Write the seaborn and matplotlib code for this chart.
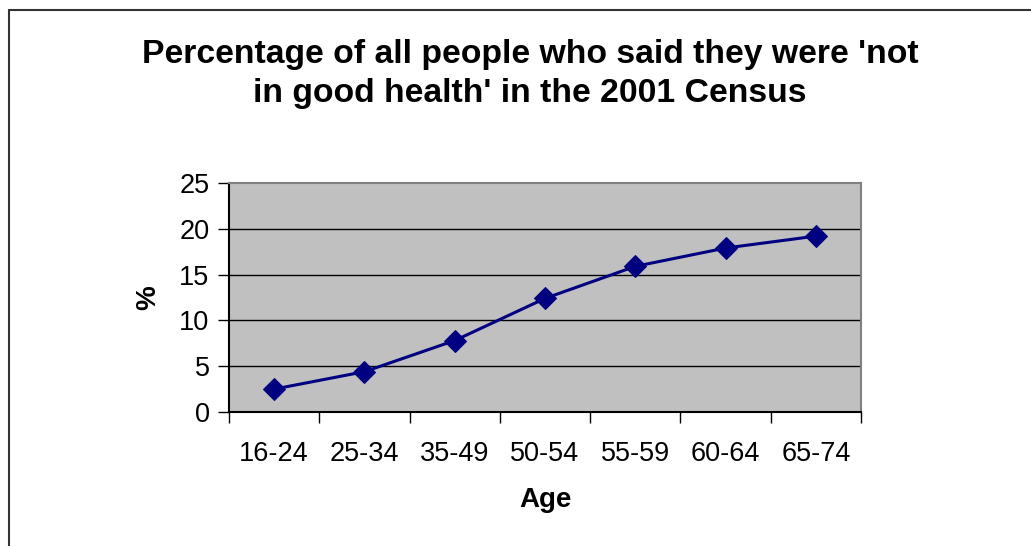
import matplotlib
matplotlib.use("Agg")
import matplotlib.pyplot as plt
import matplotlib.lines as mlines
import seaborn as sns
import pandas as pd

# data
ages = ["16-24", "25-34", "35-49", "50-54", "55-59", "60-64", "65-74"]
pct_not_good = [2.5, 4.4, 7.8, 12.4, 15.9, 17.9, 19.2]

df = pd.DataFrame({"Age": ages, "pct": pct_not_good})

sns.set_style("white")
plt.rcParams["font.family"] = ["Liberation Sans", "DejaVu Sans"]
plt.rcParams["text.color"] = "black"
plt.rcParams["axes.labelcolor"] = "black"
plt.rcParams["xtick.color"] = "black"
plt.rcParams["ytick.color"] = "black"

fig = plt.figure(figsize=(10.31, 5.46), dpi=100)
ax = fig.add_axes([229 / 1031, 1 - 412 / 546, (861 - 229) / 1031, (412 - 183) / 546])
ax.set_facecolor("#C0C0C0")

x = list(range(len(ages)))
sns.lineplot(x=x, y=df["pct"], ax=ax, color="#000080", linewidth=2.2,
             marker="D", markersize=11, markeredgecolor="#000080", zorder=3)

ax.set_xlim(-0.5, len(ages) - 0.5)
ax.set_ylim(0, 25)
ax.set_yticks(range(0, 26, 5))
ax.set_xticks(x)
ax.set_xticklabels(ages)
ax.set_xticks([i - 0.5 for i in range(len(ages) + 1)], minor=True)
ax.tick_params(axis="x", which="major", length=0, pad=21, labelsize=19.5)
ax.tick_params(axis="x", which="minor", length=8, width=1, color="black",
               direction="out", bottom=True)
ax.tick_params(axis="y", length=8, width=1, color="black", direction="out",
               pad=6, labelsize=19.5, left=True)

for yv in [5, 10, 15, 20]:
    ax.axhline(yv, color="black", linewidth=1, zorder=1)

ax.spines["left"].set_color("black")
ax.spines["bottom"].set_color("black")
ax.spines["top"].set_color("#808080")
ax.spines["right"].set_color("#808080")
for s in ax.spines.values():
    s.set_linewidth(1.5)
    s.set_visible(True)

ax.set_xlabel("Age", fontsize=20, fontweight="bold", labelpad=14)
ax.set_ylabel("%", fontsize=20, fontweight="bold", labelpad=13)

fig.text(530 / 1031, 1 - 74 / 546,
         "Percentage of all people who said they were 'not\nin good health' in the 2001 Census",
         ha="center", va="center", fontsize=24.3, fontweight="bold", linespacing=1.33)

# chart area border (only top and left visible)
fig.add_artist(mlines.Line2D([9 / 1031, 9 / 1031], [0, 1 - 10 / 546],
                             color="#333333", linewidth=1.5, transform=fig.transFigure))
fig.add_artist(mlines.Line2D([9 / 1031, 1], [1 - 10 / 546, 1 - 10 / 546],
                             color="#333333", linewidth=1.5, transform=fig.transFigure))

fig.savefig("out.png", dpi=100)
